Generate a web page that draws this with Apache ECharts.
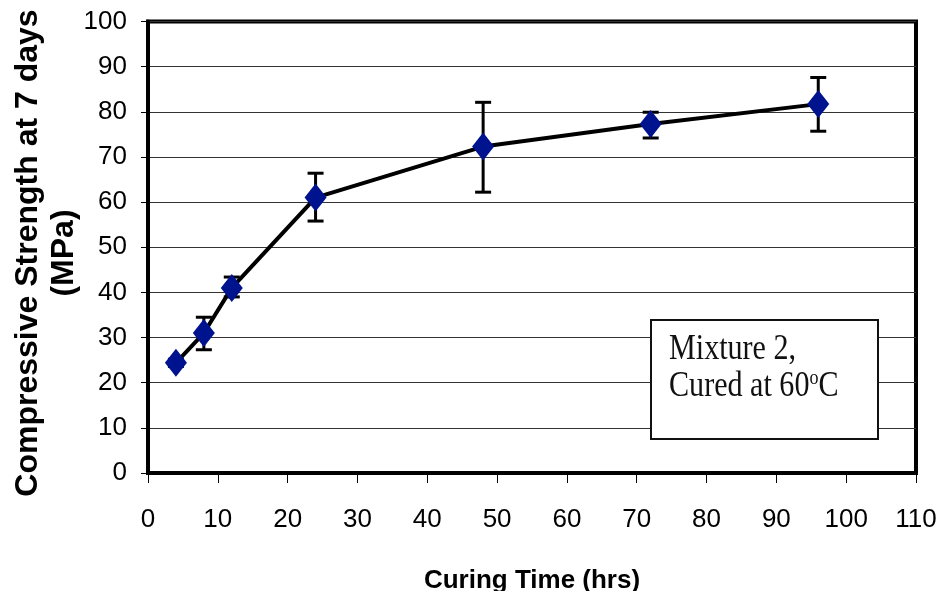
<!DOCTYPE html>
<html>
<head>
<meta charset="utf-8">
<script src="https://cdn.jsdelivr.net/npm/echarts@6/dist/echarts.min.js"></script>
<style>
html,body{margin:0;padding:0;background:#fff;}
#chart{width:943px;height:599px;}
</style>
</head>
<body>
<div id="chart"></div>
<script>
// Data
const curingHours = [4, 8, 12, 24, 48, 72, 96];
const strengthMPa = [24.4, 31, 41, 61, 72.3, 77.3, 81.7];
const errLow = [23.6, 27.3, 39, 55.8, 62.2, 74.2, 75.7];
const errHigh = [25.2, 34.5, 43.4, 66.4, 82.1, 79.9, 87.6];
const xTicks = [0, 10, 20, 30, 40, 50, 60, 70, 80, 90, 100, 110];
const yTicks = [0, 10, 20, 30, 40, 50, 60, 70, 80, 90, 100];
const yTitleLines = ['Compressive Strength at 7 days', '(MPa)'];
const xTitle = 'Curing Time (hrs)';
const noteLine1 = 'Mixture 2,';
const noteLine2 = 'Cured at 60{sup|o}C';

const tickFont = "'Liberation Sans Narrow', 'Arial Narrow', 'Liberation Sans', Arial, sans-serif";

const chart = echarts.init(document.getElementById('chart'), null, {renderer: 'canvas'});

const lineData = curingHours.map((x, i) => [x, strengthMPa[i]]);
const errData = curingHours.map((x, i) => [x, errLow[i], errHigh[i]]);

const option = {
  animation: false,
  backgroundColor: '#ffffff',
  grid: {
    left: 148, right: 27, top: 21.5, bottom: 121,
    show: true, borderColor: '#000', borderWidth: 4, backgroundColor: 'transparent'
  },
  xAxis: {
    type: 'value',
    min: xTicks[0], max: xTicks[xTicks.length - 1], interval: 10,
    name: xTitle, nameLocation: 'middle', nameGap: 95,
    nameTextStyle: {fontFamily: "'Liberation Sans', Arial, sans-serif", fontWeight: 'bold', fontSize: 26, color: '#000'},
    axisLine: {show: true, onZero: false, lineStyle: {color: '#000', width: 4}},
    axisTick: {show: true, inside: false, length: 10, lineStyle: {color: '#000', width: 1}},
    axisLabel: {margin: 34, fontFamily: tickFont, fontSize: 26, color: '#000'},
    splitLine: {show: false}
  },
  yAxis: {
    type: 'value',
    min: yTicks[0], max: yTicks[yTicks.length - 1], interval: 10,
    axisLine: {show: true, lineStyle: {color: '#000', width: 4}},
    axisTick: {show: true, inside: false, length: 7, lineStyle: {color: '#000', width: 1}},
    axisLabel: {margin: 21, fontFamily: tickFont, fontSize: 26, color: '#000'},
    splitLine: {show: true, lineStyle: {color: '#333', width: 1}}
  },
  graphic: [
    {
      type: 'text',
      x: 46, y: 253,
      rotation: Math.PI / 2,
      style: {
        text: yTitleLines.join('\n'),
        fontFamily: "'Liberation Sans', Arial, sans-serif",
        fontWeight: 'bold', fontSize: 32, lineHeight: 36,
        fill: '#000', align: 'center', verticalAlign: 'middle'
      },
      z: 100
    },
    {
      type: 'rect',
      shape: {x: 651, y: 320, width: 227, height: 119},
      style: {fill: '#fff', stroke: '#111', lineWidth: 2},
      z: 100
    },
    {
      type: 'text',
      x: 669, y: 331,
      scaleX: 0.86,
      style: {
        text: noteLine1 + '\n' + noteLine2,
        fontFamily: "'Liberation Serif', 'Times New Roman', serif",
        fontSize: 35, lineHeight: 37, fill: '#111',
        align: 'left', verticalAlign: 'top',
        rich: {
          sup: {fontFamily: "'Liberation Serif', 'Times New Roman', serif", fontSize: 21, verticalAlign: 'top', fill: '#111'}
        }
      },
      z: 101
    },
    {
      // the reference image is cropped just below the x-axis title's cap height
      type: 'rect',
      shape: {x: 0, y: 591, width: 943, height: 8},
      style: {fill: '#fff'},
      z: 200
    }
  ],
  series: [
    {
      type: 'custom',
      z: 3,
      data: errData,
      renderItem: function (params, api) {
        const x = api.value(0);
        const lo = api.coord([x, api.value(1)]);
        const hi = api.coord([x, api.value(2)]);
        const cap = 8;
        const st = {stroke: '#000', lineWidth: 3};
        return {
          type: 'group',
          children: [
            {type: 'line', shape: {x1: lo[0], y1: lo[1], x2: hi[0], y2: hi[1]}, style: st},
            {type: 'line', shape: {x1: hi[0] - cap, y1: hi[1], x2: hi[0] + cap, y2: hi[1]}, style: st},
            {type: 'line', shape: {x1: lo[0] - cap, y1: lo[1], x2: lo[0] + cap, y2: lo[1]}, style: st}
          ]
        };
      }
    },
    {
      type: 'line',
      z: 5,
      data: lineData,
      symbol: 'diamond',
      symbolSize: [22, 28],
      showSymbol: true,
      lineStyle: {color: '#000', width: 4},
      itemStyle: {color: '#00138f', borderWidth: 0},
      emphasis: {disabled: true}
    }
  ]
};
chart.setOption(option);
</script>
</body>
</html>
